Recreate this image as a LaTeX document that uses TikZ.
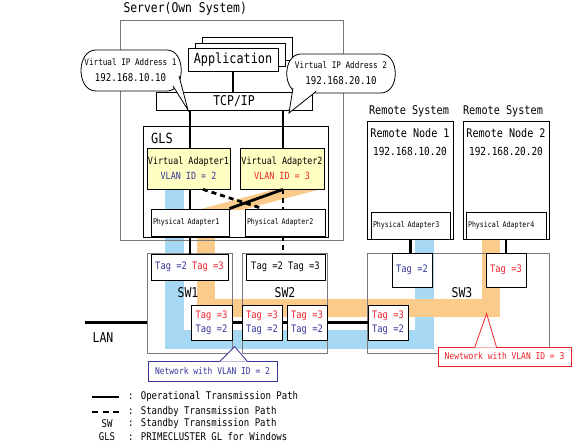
\documentclass[tikz,border=0pt]{standalone}
\usepackage{fontspec}
\setmainfont{DejaVu Sans Mono}[FakeStretch=0.85]
\usetikzlibrary{calc}
\definecolor{bandblue}{HTML}{A6D8F4}
\definecolor{bandorange}{HTML}{FACB8A}
\definecolor{vayellow}{HTML}{FFFFC4}
\definecolor{tagblue}{HTML}{35359A}
\definecolor{tagred}{HTML}{F0202A}
\definecolor{framegray}{HTML}{7A7A7A}
\newcommand{\fsz}[2]{\fontsize{#1pt}{#2pt}\selectfont}
\newcommand{\tagB}[1]{\textcolor{tagblue}{#1}}
\newcommand{\tagR}[1]{\textcolor{tagred}{#1}}
\begin{document}
\begin{tikzpicture}[
    x=1pt, y=-1pt,
    frame/.style    = {draw=framegray, line width=.8pt},
    box/.style      = {draw, line width=.8pt, fill=white, inner sep=0pt},
    stack/.style    = {box, minimum width=90pt, minimum height=23pt},
    vadapter/.style = {box, fill=vayellow, minimum height=41pt, align=center, font=\fsz{9.9}{15}},
    padapter/.style = {box, inner xsep=2pt, minimum height=27pt, align=left, font=\fsz{7.8}{9}},
    tag/.style      = {box, align=center, font=\fsz{10.3}{14}},
    swbox/.style    = {frame, minimum height=100pt, inner sep=0pt},
    blob/.style     = {draw, line width=.8pt, fill=white},
    bubble/.style   = {inner sep=0pt, align=center, font=\fsz{9}{16}},
    pointer/.style  = {draw, line width=.8pt, fill=white},
    netbox/.style   = {draw=#1, text=#1, line width=.8pt, fill=white, inner sep=0pt, font=\fsz{9.35}{10}},
    opline/.style   = {line width=2.8pt},
    sbline/.style   = {line width=2.8pt, dash pattern=on 5pt off 4pt},
    band/.style     = {line width=19pt},
    legend/.style   = {anchor=west, inner sep=0pt, font=\fsz{10.6}{11}},
  ]
	\useasboundingbox (0,0) rectangle (572,443);
	\coordinate (xa) at (190,0); % path of adapter 1
	\coordinate (xb) at (283,0); % path of adapter 2

	% VLAN bands
	\draw[band, bandblue] (174.5,180) -- (174.5,339.5) -- (424.5,339.5) -- (424.5,230);
	\fill[bandorange] (276,189) -- (321,189) -- (242,210) -- (197,210) -- cycle;
	\draw[band, bandorange, line width=18pt] (206,209) -- (206,308) -- (491,308) -- (491,230);

	% frames
	\node[anchor=west, font=\fsz{13.4}{14}] (title) at (120,9) {Server(Own System)};
	\draw[frame] (120,20) rectangle (343,240);
	\draw[line width=.8pt] (143,126) rectangle (328,237);
	\node[anchor=west, inner sep=0pt, font=\fsz{14}{14}] (glslabel) at (151,138) {GLS};
	\draw[line width=.8pt] (367,121) rectangle (453,239);
	\draw[line width=.8pt] (463,121) rectangle (549,239);

	% application and TCP/IP
	\node[stack] (app3) at (247,48.5) {};
	\node[stack] (app2) at (240,54.5) {};
	\node[stack, font=\fsz{13.9}{14}] (app) at (233,59.5) {Application};
	\node[box, minimum width=156pt, minimum height=18pt, font=\fsz{13.5}{14}] (tcp) at (234,101) {TCP/IP};

	% adapters
	\node[vadapter, minimum width=83pt] (va1) at (188.5,168.5) {Virtual Adapter1\\\tagB{VLAN ID = 2}};
	\node[vadapter, minimum width=84pt] (va2) at (282,168.5) {Virtual Adapter2\\\tagR{VLAN ID = 3}};
	\node[padapter, text width=74pt] (pa1) at (190,222.5) {Physical Adapter1};
	\node[padapter, text width=76pt] (pa2) at (285,222.5) {Physical Adapter2};
	\node[padapter, text width=75pt] (pa3) at (410.5,225.5) {Physical Adapter3};
	\node[padapter, text width=76pt] (pa4) at (506,225.5) {Physical Adapter4};

	% remote systems
	\node[font=\fsz{12}{12}] (rs1) at (409,111) {Remote System};
	\node[font=\fsz{12}{12}] (rs2) at (503,111) {Remote System};
	\node[font=\fsz{11.9}{12}] (rn1) at (410,133) {Remote Node 1};
	\node[font=\fsz{11.1}{12}] (rn1ip) at (410,151) {192.168.10.20};
	\node[font=\fsz{11.9}{12}] (rn2) at (506,133) {Remote Node 2};
	\node[font=\fsz{11.1}{12}] (rn2ip) at (506,151) {192.168.20.20};

	% switches
	\node[swbox, minimum width=85pt] (sw1) at (189.5,303) {};
	\node[swbox, minimum width=85pt] (sw2) at (284.5,303) {};
	\node[swbox, minimum width=182pt] (sw3) at (458,303) {};
	\node[font=\fsz{13.5}{14}] (sw1label) at (188,293) {SW1};
	\node[font=\fsz{13.5}{14}] (sw2label) at (285,293) {SW2};
	\node[font=\fsz{13.5}{14}] (sw3label) at (462,293) {SW3};
	\node[tag, minimum width=77pt, minimum height=26pt] (t1) at (189.5,267) {\tagB{Tag =2} \tagR{Tag =3}};
	\node[tag, minimum width=79pt, minimum height=26pt] (t2) at (285.5,267) {Tag =2 Tag =3};
	\node[tag, minimum width=41pt, minimum height=35pt] (t3) at (211.5,322.5) {\tagR{Tag =3}\\\tagB{Tag =2}};
	\node[tag, minimum width=40pt, minimum height=35pt] (t4) at (262,322.5) {\tagR{Tag =3}\\\tagB{Tag =2}};
	\node[tag, minimum width=40pt, minimum height=35pt] (t5) at (307,322.5) {\tagR{Tag =3}\\\tagB{Tag =2}};
	\node[tag, minimum width=40pt, minimum height=35pt] (t6) at (388,322.5) {\tagR{Tag =3}\\\tagB{Tag =2}};
	\node[tag, minimum width=40pt, minimum height=34pt] (t7) at (412,270) {\tagB{Tag =2}};
	\node[tag, minimum width=40pt, minimum height=34pt] (t8) at (506,270) {\tagR{Tag =3}};
	\coordinate (lan) at (85,322.5);
	\node[font=\fsz{13.5}{14}] (lanlabel) at (103,338) {LAN};

	% transmission paths
	\draw[opline] (app.south) -- (app.south |- tcp.north);
	\draw[opline] (tcp.south -| xa) -- (va1.north -| xa);
	\draw[opline] (tcp.south -| xb) -- (va2.north -| xb);
	\draw[opline] (va1.south -| xa) -- (pa1.north -| xa);
	\draw[opline] (pa1.south -| xa) -- (t1.north -| xa);
	\draw[opline] (va2.south -| xb) -- (pa1.north east);
	\draw[sbline] ($(va1.south)+(14.5,0)$) -- ($(pa2.north west)+(18,0)$);
	\draw[sbline] (va2.south -| xb) -- (pa2.north -| xb);
	\draw[sbline] (pa2.south -| xb) -- (t2.north -| xb);
	\draw[opline] (pa3.south) -- (pa3.south |- t7.north);
	\draw[opline] (pa4.south) -- (pa4.south |- t8.north);
	\draw[opline] (lan) -- (lan -| sw1.west);
	\draw[opline] (t3.east) -- (t4.west);
	\draw[opline] (t4.east) -- (t5.west);
	\draw[opline] (t5.east) -- (t6.west);

	% virtual IP addresses
	\draw[blob] (96,50) -- (167,50) .. controls (186,50) and (186,91) .. (167,91)
		-- (96,91) .. controls (76,91) and (76,50) .. (96,50) -- cycle;
	\draw[pointer] (173,86) -- (188,110) -- (179,76);
	\node[bubble] (ip1) at (130.5,70.5) {Virtual IP Address 1\\\fsz{10.7}{16}192.168.10.10};
	\draw[blob] (301,54) -- (381,54) .. controls (400,54) and (400,93) .. (381,93)
		-- (301,93) .. controls (282,93) and (282,54) .. (301,54) -- cycle;
	\draw[pointer] (293,88) -- (289,113) -- (316,91.5);
	\node[bubble] (ip2) at (341,73.5) {Virtual IP Address 2\\\fsz{10.7}{16}192.168.20.10};

	% networks
	\node[netbox=tagblue, minimum width=129pt, minimum height=20pt] (net2) at (212.5,371) {Network with VLAN ID = 2};
	\draw[pointer, draw=tagblue] ($(net2.north west)+(72,1)$) -- ($(net2.north west)+(87,-14)$) -- ($(net2.north west)+(100,1)$);
	\node[netbox=tagred, minimum width=133pt, minimum height=19pt] (net3) at (504.5,356.5) {Newtwork with VLAN ID = 3};
	\draw[pointer, draw=tagred] ($(net3.north west)+(37,1)$) -- ($(net3.north west)+(49,-33)$) -- ($(net3.north west)+(59,1)$);

	% legend
	\coordinate (lg1) at (92,397);
	\coordinate (lg2) at (92,412);
	\draw[opline] (lg1) -- ++(27,0);
	\draw[sbline, dash pattern=on 6pt off 4.5pt] (lg2) -- ++(27,0);
	\node[legend] (lgt1) at (128,397) {: Operational Transmission Path};
	\node[legend] (lgt2) at (128,412) {: Standby Transmission Path};
	\node[font=\fsz{10.6}{11}, inner sep=0pt] (lgsw) at (107,424) {SW};
	\node[legend] (lgt3) at (128,424) {: Standby Transmission Path};
	\node[font=\fsz{10.6}{11}, inner sep=0pt] (lggls) at (107,437) {GLS};
	\node[legend] (lgt4) at (128,437) {: PRIMECLUSTER GL for Windows};
\end{tikzpicture}
\end{document}
